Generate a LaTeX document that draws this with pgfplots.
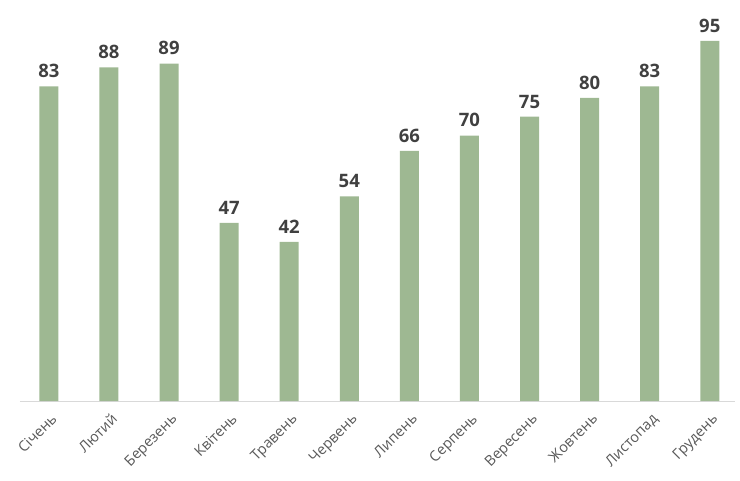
\documentclass[border=0pt]{standalone}
\usepackage{fontspec}
\setmainfont{Open Sans}
\usepackage{pgfplots}
\pgfplotsset{compat=1.18}
\definecolor{bargreen}{HTML}{9EB892}
\definecolor{valgray}{HTML}{404040}
\definecolor{tickgray}{HTML}{595959}
\definecolor{axgray}{HTML}{D9D9D9}
\begin{document}
\begin{tikzpicture}
\useasboundingbox (-20pt,-79pt) rectangle (720pt,401pt);
\begin{axis}[
    scale only axis,
    width=715pt, height=401pt,
    xmin=-0.48, xmax=11.42,
    ymin=0, ymax=105.8,
    axis x line*=bottom,
    axis y line=none,
    x axis line style={axgray, line width=0.8pt, -},
    xtick={0,...,11},
    xticklabels={Січень,Лютий,Березень,Квітень,Травень,Червень,Липень,Серпень,Вересень,Жовтень,Листопад,Грудень},
    major tick length=0pt,
    x tick label style={rotate=45, anchor=north east, font=\fontsize{14.5}{16}\selectfont, text=tickgray, inner sep=1pt, xshift=-6pt, yshift=-8pt},
    ybar, bar width=19pt,
    nodes near coords,
    /pgf/number format/assume math mode=true,
    every node near coord/.append style={font=\fontsize{18.5}{20}\selectfont\bfseries, text=valgray, yshift=5pt},
]
\addplot[fill=bargreen, draw=none] coordinates {
    (0,83) (1,88) (2,89) (3,47) (4,42) (5,54)
    (6,66) (7,70) (8,75) (9,80) (10,83) (11,95)
};
\end{axis}
\end{tikzpicture}
\end{document}
